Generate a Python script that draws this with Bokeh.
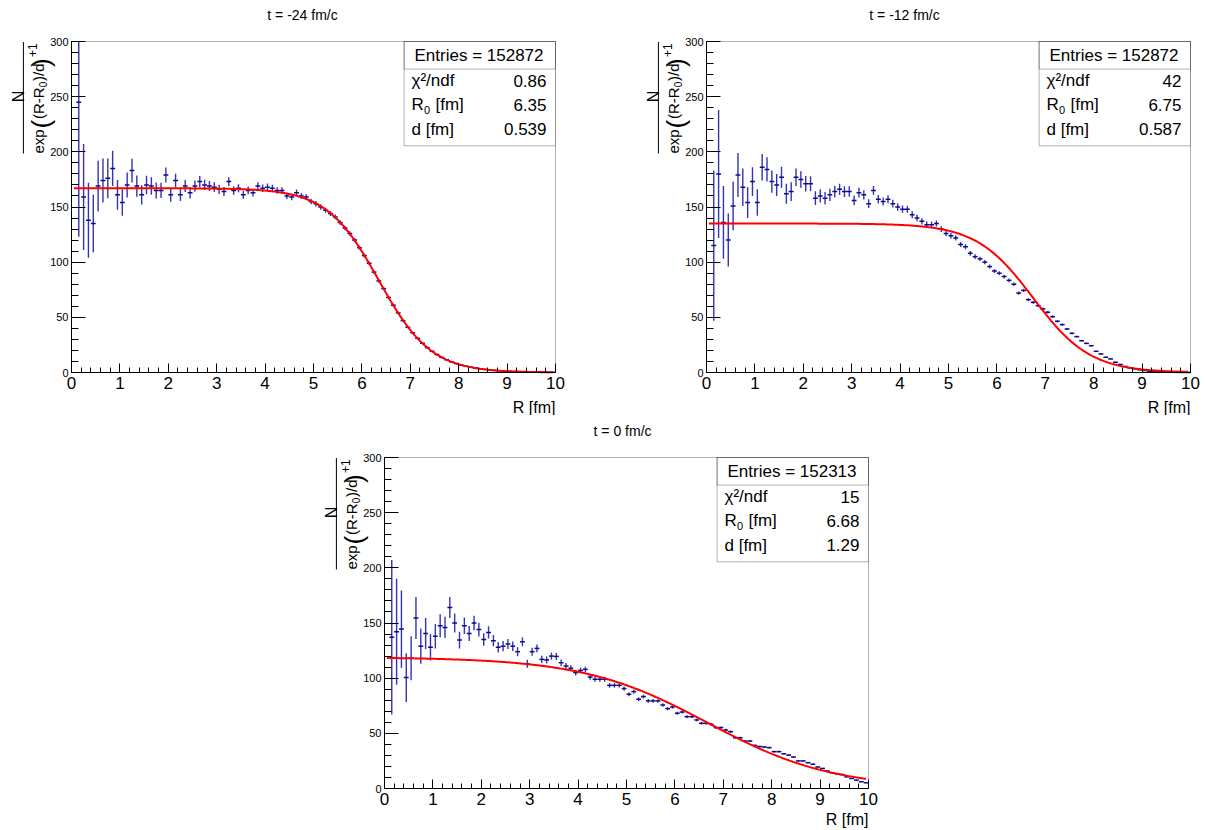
import numpy as np
from bokeh.plotting import figure
from bokeh.models import Range1d, SingleIntervalTicker, Label, BoxAnnotation, Spacer, ColumnDataSource
from bokeh.layouts import row, column
from bokeh.embed import file_html
from bokeh.resources import INLINE

FONT = "Liberation Sans"

# ---------------- data ----------------
# bin centres R [fm] (100 bins of 0.1 fm, first bin empty)
r_centres = [round(0.15 + 0.1 * i, 2) for i in range(99)]

titles = ["t = -24 fm/c", "t = -12 fm/c", "t =  0 fm/c"]
entries = ["152872", "152872", "152313"]
chi2_ndf = ["0.86", "42", "15"]
r0_text = ["6.35", "6.75", "6.68"]
d_text = ["0.539", "0.587", "1.29"]
# fit parameters (normalisation read from plateau, R0 and d from the stats boxes)
fit_norm = [167, 135, 119]
fit_r0 = [6.35, 6.75, 6.68]
fit_d = [0.539, 0.587, 1.29]

y_t24 = [245, 159, 138, 135, 169, 174, 176, 185, 161,
         154, 170, 183, 169, 161, 170, 169, 165, 165, 179,
         161, 174, 161, 169, 163, 169, 173, 170, 169, 168,
         166, 164, 173, 165, 167, 161, 165, 163, 169, 167,
         168, 167, 165, 165, 160, 159, 163, 160, 159, 155,
         153, 150, 147, 144, 141, 136, 131, 126, 120, 113,
         106, 99, 91, 83, 76, 68, 61, 54, 47, 41,
         36, 31, 26.5, 22.6, 19.2, 16.3, 13.7, 11.6, 9.7, 8.2,
         6.8, 5.7, 4.8, 4.0, 3.3, 2.8, 2.3, 1.9, 1.6, 1.3,
         1.1, 0.9, 0.8, 0.6, 0.5, 0.4, 0.4, 0.3, 0.3, 0.2]
e_t24 = [122, 48, 34, 26, 23, 20, 18, 16, 13.5,
         12, 11.3, 10.8, 9.6, 8.8, 8.4, 7.9, 7.3, 6.9, 6.9,
         6.2, 6.1, 5.6, 5.5, 5.2, 5.1, 5.0, 4.7, 4.6, 4.4,
         4.2, 4.1, 4.0, 3.8, 3.7, 3.6, 3.5, 3.4, 3.4, 3.3,
         3.2, 3.1, 3.0, 2.95, 2.85, 2.8, 2.75, 2.65, 2.6, 2.5,
         2.45, 2.4, 2.3, 2.25, 2.2, 2.1, 2.0, 1.95, 1.87, 1.79,
         1.7, 1.62, 1.53, 1.44, 1.35, 1.26, 1.17, 1.09, 1.0, 0.92,
         0.85, 0.78, 0.71, 0.65, 0.59, 0.53, 0.48, 0.44, 0.4, 0.36,
         0.32, 0.29, 0.27, 0.24, 0.22, 0.2, 0.18, 0.16, 0.14, 0.13,
         0.12, 0.11, 0.1, 0.09, 0.08, 0.07, 0.07, 0.06, 0.06, 0.05]

y_t12 = [115, 180, 136, 120, 151, 179, 168, 154, 173,
         154, 186, 184, 173, 170, 177, 162, 164, 177, 175,
         171, 171, 158, 160, 158, 161, 164, 166, 164, 164,
         156, 163, 161, 153, 165, 157, 155, 157, 153, 150,
         148, 148, 143, 140, 137, 134, 134, 135, 130, 126,
         124, 122, 116, 114, 108, 105, 103, 100, 96, 92,
         90, 87, 83.5, 80, 72, 74.4, 66, 63.6, 60.6, 57.6,
         54.6, 50.6, 46.4, 43.4, 39.4, 35.5, 32.5, 28.8, 26.4, 24.3,
         19.2, 16.8, 13.8, 12.3, 9.3, 7.3, 5.5, 4.2, 3.3, 2.4,
         1.8, 1.2, 0.8, 0.5, 0.3, 0.2, 0.15, 0.1, 0.05, 0.03]
e_t12 = [68, 58, 33, 24, 22, 20, 17, 14, 13,
         12, 12, 11, 10, 10, 9.5, 9, 8.5, 8, 7.5,
         7, 6.8, 6.3, 6, 5.7, 5.5, 5.3, 5.1, 4.9, 4.7,
         4.5, 4.4, 4.2, 4.0, 4.0, 3.8, 3.7, 3.6, 3.5, 3.4,
         3.3, 3.2, 3.1, 3.0, 2.9, 2.8, 2.75, 2.7, 2.6, 2.5,
         2.45, 2.4, 2.3, 2.25, 2.15, 2.1, 2.0, 1.95, 1.9, 1.8,
         1.75, 1.7, 1.6, 1.55, 1.45, 1.45, 1.35, 1.3, 1.25, 1.2,
         1.15, 1.1, 1.0, 0.95, 0.9, 0.85, 0.8, 0.75, 0.7, 0.65,
         0.6, 0.55, 0.5, 0.45, 0.4, 0.35, 0.3, 0.25, 0.22, 0.2,
         0.17, 0.14, 0.12, 0.1, 0.08, 0.07, 0.06, 0.05, 0.04, 0.03]

y_t0 = [137, 142, 144.5, 100.5, 118, 154.5, 129, 140.5, 128,
        138, 147.5, 146, 164, 150, 134.5, 147.5, 140.5, 150, 144,
        135, 141.5, 134, 128, 129, 131, 129, 124, 133, 113,
        124, 127, 117, 116.5, 120, 119.7, 114, 111, 109, 105,
        107, 108, 101, 99, 99, 99, 93.5, 93.5, 93.5, 90.6,
        85.4, 87.8, 80.9, 83.3, 79.4, 79.4, 79.4, 75.7, 72.4, 73.9,
        68.2, 69.3, 65.1, 65.1, 62.1, 59.1, 59.1, 58.2, 55.2, 55.2,
        53, 51.5, 46, 46, 43, 43, 39, 38, 37.6, 37,
        33.4, 33.4, 31.5, 30.3, 28.5, 25, 25, 23.4, 22, 19.5,
        18.2, 15.8, 14.3, 13.3, 12.7, 10.6, 9.1, 7.6, 6.1, 5.2]
e_t0 = [70, 48, 35, 22, 20, 19, 16, 14, 12,
        11, 10.5, 9.7, 9.5, 8.5, 7.5, 7.4, 6.8, 6.6, 6.2,
        5.7, 5.5, 5.1, 4.8, 4.6, 4.5, 4.3, 4.1, 4.0, 3.6,
        3.6, 3.6, 3.3, 3.2, 3.2, 3.1, 2.9, 2.8, 2.7, 2.6,
        2.55, 2.5, 2.4, 2.3, 2.25, 2.2, 2.1, 2.05, 2.0, 1.95,
        1.85, 1.85, 1.75, 1.75, 1.7, 1.65, 1.6, 1.55, 1.5, 1.5,
        1.4, 1.4, 1.35, 1.3, 1.27, 1.22, 1.2, 1.17, 1.13, 1.1,
        1.07, 1.05, 0.97, 0.96, 0.92, 0.9, 0.86, 0.84, 0.82, 0.8,
        0.75, 0.74, 0.71, 0.69, 0.66, 0.61, 0.6, 0.58, 0.55, 0.52,
        0.5, 0.46, 0.43, 0.41, 0.4, 0.36, 0.33, 0.3, 0.27, 0.25]

values = [y_t24, y_t12, y_t0]
errors = [e_t24, e_t12, e_t0]
title_dx = [231, 198, 240]
xlabel_up = [-35, -35, -31]

# ---------------- geometry ----------------
FW, FH = 484, 331          # plotting box size in px (R 0..10, N 0..300)
XMAX, YMAX = 10.0, 300.0
BIN_HALF = 0.05


def X(px):
    return px * XMAX / FW


def Y(px):
    return px * YMAX / FH


def lab(p, text, dx, up, size, align="left", baseline="middle", angle=0.0, color="black"):
    p.add_layout(Label(x=X(dx), y=Y(up), text=text, text_font=FONT, text_font_size=f"{size}px",
                       text_align=align, text_baseline=baseline, angle=angle, text_color=color))


def make_panel(i, width, height, left, top):
    right = width - left - FW
    bottom = height - top - FH
    p = figure(width=width, height=height,
               x_range=Range1d(-X(left), XMAX + X(right)),
               y_range=Range1d(-Y(bottom), YMAX + Y(top)),
               output_backend="svg", toolbar_location=None, title=None,
               min_border=0)
    p.background_fill_color = "white"
    p.border_fill_color = "white"
    p.outline_line_color = None
    p.xgrid.grid_line_color = None
    p.ygrid.grid_line_color = None

    p.xaxis.fixed_location = 0
    p.yaxis.fixed_location = 0
    p.xaxis.bounds = (0, XMAX)
    p.yaxis.bounds = (0, YMAX)
    p.xaxis.ticker = SingleIntervalTicker(interval=1, num_minor_ticks=5)
    p.yaxis.ticker = SingleIntervalTicker(interval=50, num_minor_ticks=5)
    for ax in (p.xaxis, p.yaxis):
        ax.axis_line_color = "black"
        ax.axis_line_width = 1
        ax.major_tick_line_color = "black"
        ax.minor_tick_line_color = "black"
        ax.major_tick_out = 0
        ax.minor_tick_out = 0
        ax.major_label_text_font = FONT
        ax.major_label_text_color = "black"
    p.xaxis.major_tick_in = 9
    p.xaxis.minor_tick_in = 5
    p.yaxis.major_tick_in = 14
    p.yaxis.minor_tick_in = 7
    p.xaxis.major_label_text_font_size = "17px"
    p.yaxis.major_label_text_font_size = "11px"
    p.xaxis.major_label_standoff = 4
    p.yaxis.major_label_standoff = 3

    # plotting box outline
    p.add_layout(BoxAnnotation(left=0, right=XMAX, bottom=0, top=YMAX, fill_color=None, fill_alpha=0,
                               line_color="black", line_width=1, level="underlay"))

    v = values[i]
    e = errors[i]
    src = ColumnDataSource(dict(
        r=r_centres, v=v,
        lo=[max(a - b, 0.0) for a, b in zip(v, e)], hi=[min(a + b, YMAX) for a, b in zip(v, e)],
        x0=[r - BIN_HALF for r in r_centres], x1=[r + BIN_HALF for r in r_centres]))
    p.segment(x0="r", y0="lo", x1="r", y1="hi", source=src, line_color="#3434ae", line_width=1.4)
    p.segment(x0="x0", y0="v", x1="x1", y1="v", source=src, line_color="#0b0b8f", line_width=1.5)

    rr = np.linspace(0.05, 9.95, 400)
    ff = fit_norm[i] / (np.exp((rr - fit_r0[i]) / fit_d[i]) + 1.0)
    p.line(rr, ff, line_color="#ff0000", line_width=2)

    # stats box
    p.add_layout(BoxAnnotation(left=X(332.6), right=XMAX, top=YMAX, bottom=Y(226.7),
                               fill_color="white", fill_alpha=1.0, line_color="black", line_width=1))
    p.add_layout(BoxAnnotation(left=X(332.6), right=XMAX, top=YMAX, bottom=Y(303.4),
                               fill_color=None, fill_alpha=0, line_color="black", line_width=1))
    lab(p, "Entries = " + entries[i], 407.5, 316.7, 17, "center")
    lab(p, "\u03c7\u00b2/ndf", 340, 291.7, 17)
    lab(p, chi2_ndf[i], 475, 291.7, 17, "right")
    lab(p, "R", 340, 267.7, 17)
    lab(p, "0", 352.5, 263.0, 11)
    lab(p, "[fm]", 364, 267.7, 17)
    lab(p, r0_text[i], 475, 267.7, 17, "right")
    lab(p, "d [fm]", 340, 243.4, 17)
    lab(p, d_text[i], 475, 243.4, 17, "right")

    # title and x label
    lab(p, titles[i], title_dx[i], 358, 14, "center")
    lab(p, "R [fm]", 484, xlabel_up[i], 16, "right", "alphabetic")

    # y label: N / (exp((R-R0)/d)+1), rotated
    a = np.pi / 2
    lab(p, "N", -53, 276, 16, "center", "alphabetic", a)
    p.add_layout(BoxAnnotation(left=X(-48.6), right=X(-47.6), bottom=Y(219), top=Y(330.5),
                               fill_color="black", fill_alpha=1.0, line_color=None))
    lab(p, "exp", -33, 219, 15, "left", "alphabetic", a)
    lab(p, "(", -31, 244, 26, "left", "alphabetic", a)
    lab(p, "(R-R", -33, 253.5, 15, "left", "alphabetic", a)
    lab(p, "0", -29, 285.3, 10, "left", "alphabetic", a)
    lab(p, ")/d", -33, 291.5, 15, "left", "alphabetic", a)
    lab(p, ")", -31, 305.5, 26, "left", "alphabetic", a)
    lab(p, "+1", -39, 315.5, 12, "left", "alphabetic", a)
    return p


p1 = make_panel(0, 630, 415, 71, 41)
p2 = make_panel(1, 574, 415, 76, 41)
p3 = make_panel(2, 598, 413, 84, 42)

layout = column(row(p1, p2), row(Spacer(width=300, height=413), p3))
open("out.html", "w").write(file_html(layout, INLINE))
